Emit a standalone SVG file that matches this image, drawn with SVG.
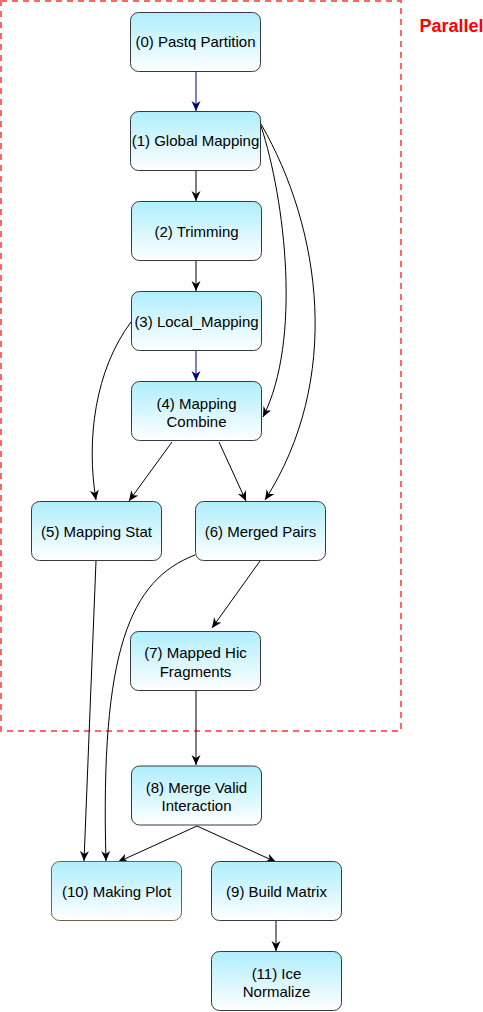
<svg xmlns="http://www.w3.org/2000/svg" width="483" height="1012" viewBox="0 0 483 1012">
<defs>
<linearGradient id="g" x1="0" y1="0" x2="0" y2="1">
<stop offset="0" stop-color="#AEEEFC"/>
<stop offset="1" stop-color="#FFFFFF"/>
</linearGradient>
<marker id="a" markerUnits="userSpaceOnUse" markerWidth="12" markerHeight="10" refX="10" refY="4.5" orient="auto" viewBox="0 0 12 10">
<path d="M0,0 L10,4.5 L0,9 L3,4.5 Z" fill="#000"/>
</marker>
<marker id="n" markerUnits="userSpaceOnUse" markerWidth="12" markerHeight="10" refX="10" refY="4.5" orient="auto" viewBox="0 0 12 10">
<path d="M0,0 L10,4.5 L0,9 L3,4.5 Z" fill="#000080"/>
</marker>
</defs>
<style>
.box{fill:url(#g);stroke:#36393d;stroke-width:1}
.t{font-family:"Liberation Sans",Arial,sans-serif;font-size:15px;fill:#000;text-anchor:middle}
.e{fill:none;stroke:#000;stroke-width:1;marker-end:url(#a)}
.en{fill:none;stroke:#000080;stroke-width:1;marker-end:url(#n)}
</style>
<rect x="1" y="1" width="400" height="730" fill="none" stroke="#FF6666" stroke-width="2" stroke-dasharray="6,5"/>
<text x="451.5" y="32" font-family="Liberation Sans,Arial,sans-serif" font-size="18" font-weight="bold" fill="#FF0000" text-anchor="middle">Parallel</text>
<g id="connectors">
<path class="en" d="M196,72 L196,111"/>
<path class="e" d="M196,171 L196,201"/>
<path class="e" d="M196,261 L196,291"/>
<path class="en" d="M196,351 L196,381"/>
<path class="e" d="M261,126 C285,200 302,340 263,417"/>
<path class="e" d="M261,124 C322,230 342,380 265,500"/>
<path class="e" d="M131,322 C95,370 86,440 96,500"/>
<path class="e" d="M172,442 L129,501"/>
<path class="e" d="M219,442 L246,501"/>
<path class="e" d="M96,561 L84,861"/>
<path class="e" d="M195,555 C130,580 100,650 106,861"/>
<path class="e" d="M260,561 L212,628"/>
<path class="e" d="M196,691 L196,765"/>
<path class="e" d="M197,826 L118,862"/>
<path class="e" d="M197,826 L276,862"/>
<path class="e" d="M276,921 L276,951"/>
</g>
<g id="n0"><rect class="box" x="130.5" y="12.5" width="130" height="59" rx="8"/><text class="t" x="195.5" y="47">(0) Pastq Partition</text></g>
<g id="n1"><rect class="box" x="130.5" y="111.5" width="130" height="59" rx="8"/><text class="t" x="195.5" y="146">(1) Global Mapping</text></g>
<g id="n2"><rect class="box" x="131.5" y="201.5" width="130" height="59" rx="8"/><text class="t" x="196.5" y="237">(2) Trimming</text></g>
<g id="n3"><rect class="box" x="131.5" y="291.5" width="130" height="59" rx="8"/><text class="t" x="196.5" y="327">(3) Local_Mapping</text></g>
<g id="n4"><rect class="box" x="131.5" y="381.5" width="130" height="59" rx="8"/><text class="t" x="196.5" y="409">(4) Mapping</text><text class="t" x="196.5" y="427">Combine</text></g>
<g id="n5"><rect class="box" x="31.5" y="501.5" width="130" height="59" rx="8"/><text class="t" x="96.5" y="537">(5) Mapping Stat</text></g>
<g id="n6"><rect class="box" x="195.5" y="501.5" width="130" height="59" rx="8"/><text class="t" x="260.5" y="537">(6) Merged Pairs</text></g>
<g id="n7"><rect class="box" x="130.5" y="631.5" width="130" height="59" rx="8"/><text class="t" x="195.5" y="658">(7) Mapped Hic</text><text class="t" x="195.5" y="677">Fragments</text></g>
<g id="n8"><rect class="box" x="131.5" y="766" width="130" height="59" rx="8"/><text class="t" x="196.5" y="793">(8) Merge Valid</text><text class="t" x="196.5" y="811">Interaction</text></g>
<g id="n10"><rect class="box" x="51.5" y="861.5" width="130" height="59" rx="8" style="stroke:#6d6548"/><text class="t" x="116.5" y="897">(10) Making Plot</text></g>
<g id="n9"><rect class="box" x="211.5" y="861.5" width="130" height="59" rx="8"/><text class="t" x="276.5" y="897">(9) Build Matrix</text></g>
<g id="n11"><rect class="box" x="211.5" y="951.5" width="130" height="59" rx="8"/><text class="t" x="276.5" y="979">(11) Ice</text><text class="t" x="276.5" y="997">Normalize</text></g>
</svg>
